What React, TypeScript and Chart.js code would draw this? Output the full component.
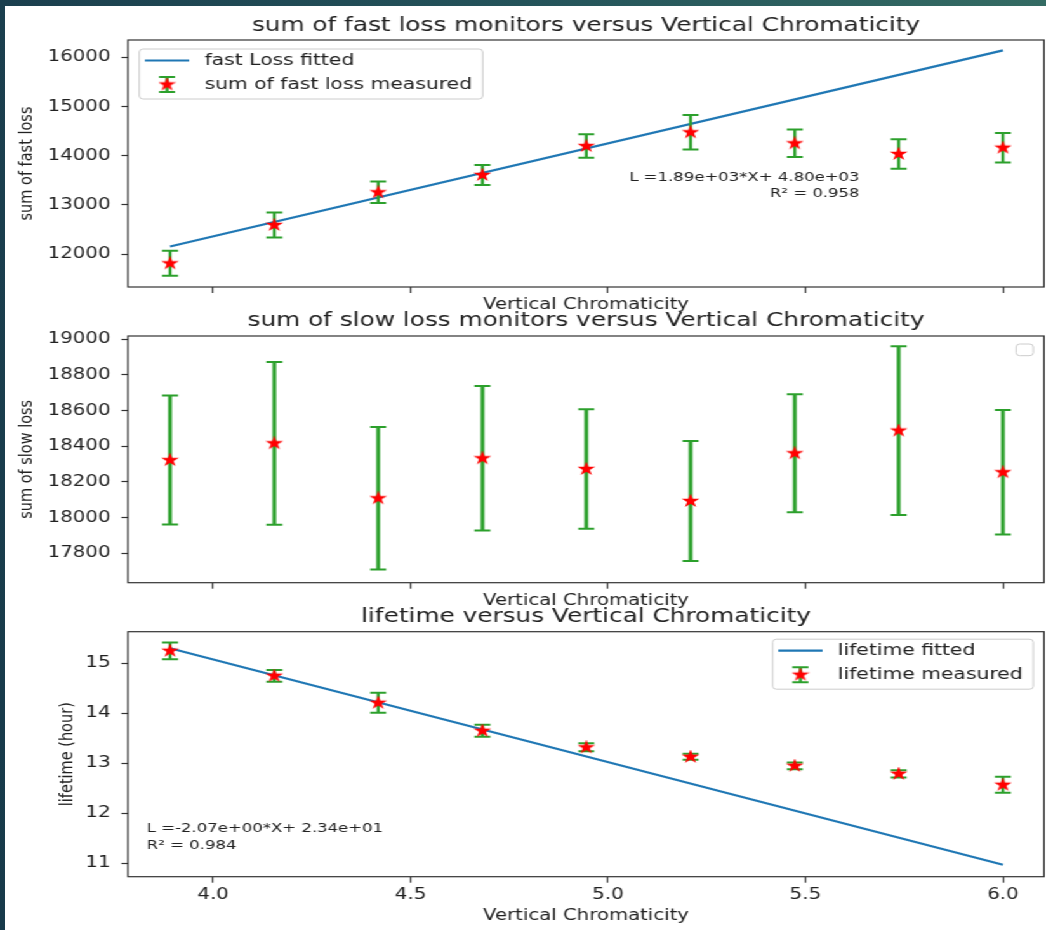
import React, { useEffect, useRef } from 'react';
import { Chart, registerables } from 'chart.js';

Chart.register(...registerables);

// ---------------- data ----------------
const chromaticity = [3.891, 4.155, 4.418, 4.682, 4.945, 5.209, 5.473, 5.736, 6.0];

const fastLoss = [11810, 12590, 13255, 13607, 14196, 14475, 14251, 14034, 14162];
const fastLossErr = [254, 254, 220, 203, 237, 350, 280, 300, 300];
const fastFitX = [3.891, 6.0];
const fastFitY = [12154, 16140];

const slowLoss = [18322, 18416, 18108, 18332, 18272, 18093, 18360, 18487, 18254];
const slowLossErr = [361, 456, 399, 405, 335, 336, 331, 473, 349];

const lifetime = [15.25, 14.75, 14.21, 13.65, 13.32, 13.13, 12.95, 12.79, 12.57];
const lifetimeErr = [0.167, 0.117, 0.2, 0.12, 0.08, 0.06, 0.067, 0.073, 0.16];
const lifeFitX = [3.891, 6.0];
const lifeFitY = [15.3, 10.97];

const xTicks = [4.0, 4.5, 5.0, 5.5, 6.0];
const fastTicks = [12000, 13000, 14000, 15000, 16000];
const slowTicks = [17800, 18000, 18200, 18400, 18600, 18800, 19000];
const lifeTicks = [11, 12, 13, 14, 15];

// ---------------- look ----------------
const CW = 824; // canvas width; the whole figure is stretched horizontally like the reference
const S = 1046 / CW;
const FONT = '"DejaVu Sans", "Liberation Sans", sans-serif';
const TXT = '#222222';
const SPINE = '#333333';
const GREEN = '#2ca02c';
const BLUE = '#1f77b4';
const RED = '#ff0000';
const X_MIN = 3.7845;
const X_MAX = 6.104;
const AX_LEFT = 128;
const AX_RIGHT = 1044;

const panels: any[] = [
  {
    title: 'sum of fast loss monitors versus Vertical Chromaticity',
    yLabel: 'sum of fast loss',
    values: fastLoss,
    errors: fastLossErr,
    fitX: fastFitX,
    fitY: fastFitY,
    fitLabel: 'fast Loss fitted',
    measuredLabel: 'sum of fast loss measured',
    yMin: 11329,
    yMax: 16352,
    yTicks: fastTicks,
    showX: false,
    canvasTop: 0,
    canvasH: 320,
    areaTop: 40,
    areaBottom: 287,
    titleY: 25.5,
    xLabelY: 305,
    yLabelX: 27.5,
    elw: 2.4,
    legend: { corner: 'ul', dy: 9, empty: false },
    notes: {
      align: 'right',
      x: 5.637,
      lines: [
        ['L =1.89e+03*X+ 4.80e+03', 13552],
        ['R\u00B2 = 0.958', 13234],
      ],
    },
  },
  {
    title: 'sum of slow loss monitors versus Vertical Chromaticity',
    yLabel: 'sum of slow loss',
    values: slowLoss,
    errors: slowLossErr,
    fitX: null,
    fitY: null,
    fitLabel: '',
    measuredLabel: '',
    yMin: 17635,
    yMax: 19017,
    yTicks: slowTicks,
    showX: false,
    canvasTop: 300,
    canvasH: 320,
    areaTop: 336,
    areaBottom: 582.7,
    titleY: 321,
    xLabelY: 600.7,
    yLabelX: 27.5,
    elw: 3,
    legend: { corner: 'ur', dy: 8, empty: true },
    notes: null,
  },
  {
    title: 'lifetime versus Vertical Chromaticity',
    yLabel: 'lifetime (hour)',
    values: lifetime,
    errors: lifetimeErr,
    fitX: lifeFitX,
    fitY: lifeFitY,
    fitLabel: 'lifetime fitted',
    measuredLabel: 'lifetime measured',
    yMin: 10.732,
    yMax: 15.632,
    yTicks: lifeTicks,
    showX: true,
    canvasTop: 596,
    canvasH: 334,
    areaTop: 631.7,
    areaBottom: 876.7,
    titleY: 617,
    xLabelY: 916,
    yLabelX: 68,
    elw: 2.4,
    legend: { corner: 'ur', dy: 7.5, empty: false },
    notes: {
      align: 'left',
      x: 3.832,
      lines: [
        ['L =-2.07e+00*X+ 2.34e+01', 11.7],
        ['R\u00B2 = 0.984', 11.35],
      ],
    },
  },
];

function makeStar(): HTMLCanvasElement {
  const c = document.createElement('canvas');
  c.width = 14;
  c.height = 14;
  const g = c.getContext('2d') as CanvasRenderingContext2D;
  const R = 5.4;
  const r = R * 0.381966;
  const cx = 7;
  const cy = 7;
  g.beginPath();
  for (let k = 0; k < 10; k++) {
    const ang = -Math.PI / 2 + (k * Math.PI) / 5;
    const rad = k % 2 === 0 ? R : r;
    const px = cx + rad * Math.cos(ang);
    const py = cy + rad * Math.sin(ang);
    if (k === 0) g.moveTo(px, py);
    else g.lineTo(px, py);
  }
  g.closePath();
  g.fillStyle = RED;
  g.fill();
  g.strokeStyle = RED;
  g.lineWidth = 1.3;
  g.stroke();
  return c;
}

function roundedRect(ctx: CanvasRenderingContext2D, x: number, y: number, w: number, h: number, r: number) {
  ctx.beginPath();
  ctx.moveTo(x + r, y);
  ctx.lineTo(x + w - r, y);
  ctx.arcTo(x + w, y, x + w, y + r, r);
  ctx.lineTo(x + w, y + h - r);
  ctx.arcTo(x + w, y + h, x + w - r, y + h, r);
  ctx.lineTo(x + r, y + h);
  ctx.arcTo(x, y + h, x, y + h - r, r);
  ctx.lineTo(x, y + r);
  ctx.arcTo(x, y, x + r, y, r);
  ctx.closePath();
}

function drawLegend(ctx: CanvasRenderingContext2D, a: any, p: any, star: HTMLCanvasElement) {
  const rows = p.legend.empty
    ? []
    : [
        { kind: 'line', label: p.fitLabel },
        { kind: 'err', label: p.measuredLabel },
      ];
  ctx.save();
  ctx.font = `16px ${FONT}`;
  const maxW = rows.reduce((m: number, r: any) => Math.max(m, ctx.measureText(r.label).width), 0);
  const w = rows.length ? 51.4 + maxW + 8.4 : 13.6;
  const h = rows.length ? 50 : 11.7;
  const left = p.legend.corner === 'ul' ? a.left + 8.9 : a.right - 8.4 - w;
  const top = a.top + p.legend.dy;
  roundedRect(ctx, left, top, w, h, 3);
  ctx.fillStyle = 'rgba(255,255,255,0.8)';
  ctx.fill();
  ctx.strokeStyle = '#cccccc';
  ctx.lineWidth = 1;
  ctx.stroke();
  rows.forEach((r: any, i: number) => {
    const cy = top + 11.5 + 24 * i;
    const hx0 = left + 4.4;
    const hx1 = left + 39.3;
    const hc = (hx0 + hx1) / 2;
    if (r.kind === 'line') {
      ctx.strokeStyle = BLUE;
      ctx.lineWidth = 2.2;
      ctx.beginPath();
      ctx.moveTo(hx0, cy);
      ctx.lineTo(hx1, cy);
      ctx.stroke();
    } else {
      ctx.strokeStyle = GREEN;
      ctx.lineWidth = p.elw;
      ctx.beginPath();
      ctx.moveTo(hc, cy - 7.5);
      ctx.lineTo(hc, cy + 7.5);
      ctx.stroke();
      ctx.lineWidth = 2;
      ctx.beginPath();
      ctx.moveTo(hc - 6.3, cy - 7.5);
      ctx.lineTo(hc + 6.3, cy - 7.5);
      ctx.moveTo(hc - 6.3, cy + 7.5);
      ctx.lineTo(hc + 6.3, cy + 7.5);
      ctx.stroke();
      ctx.drawImage(star, hc - star.width / 2, cy - star.height / 2);
    }
    ctx.fillStyle = TXT;
    ctx.textAlign = 'left';
    ctx.textBaseline = 'middle';
    ctx.fillText(r.label, left + 51.4, cy);
  });
  ctx.restore();
}

function buildChart(canvas: HTMLCanvasElement, p: any, star: HTMLCanvasElement) {
  const pts = chromaticity.map((x, i) => ({ x, y: p.values[i] }));
  const caps = chromaticity.flatMap((x, i) => [
    { x, y: p.values[i] - p.errors[i] },
    { x, y: p.values[i] + p.errors[i] },
  ]);
  const bars = chromaticity.flatMap((x, i) => [
    { x, y: p.values[i] - p.errors[i] },
    { x, y: p.values[i] + p.errors[i] },
    { x, y: null },
  ]);
  const datasets: any[] = [
    { label: p.measuredLabel, data: pts, showLine: false, pointStyle: star, pointRadius: 5, order: 0 },
    {
      label: 'caps',
      data: caps,
      showLine: false,
      pointStyle: 'line',
      pointRadius: 6.3,
      pointBorderColor: GREEN,
      pointBorderWidth: 2,
      order: 1,
    },
    {
      label: 'bars',
      data: bars,
      showLine: true,
      spanGaps: false,
      borderColor: GREEN,
      borderWidth: p.elw,
      pointRadius: 0,
      order: 2,
    },
  ];
  if (p.fitX) {
    datasets.push({
      label: p.fitLabel,
      data: p.fitX.map((x: number, i: number) => ({ x, y: p.fitY[i] })),
      showLine: true,
      borderColor: BLUE,
      borderWidth: 2.2,
      pointRadius: 0,
      order: 3,
    });
  }

  const top = p.canvasTop;
  const bottom = p.canvasTop + p.canvasH;
  const titleLH = 19.5 * 1.2;
  const xTitleLH = 15.5 * 1.2;
  const yTitleLH = 14.5 * 1.2;

  const overlay = {
    id: 'overlay',
    afterDraw(chart: any) {
      const { ctx, chartArea: a, scales } = chart;
      ctx.save();
      ctx.strokeStyle = SPINE;
      ctx.lineWidth = 1.2;
      ctx.strokeRect(a.left, a.top, a.right - a.left, a.bottom - a.top);
      if (p.notes) {
        ctx.font = `13px ${FONT}`;
        ctx.fillStyle = TXT;
        ctx.textAlign = p.notes.align;
        ctx.textBaseline = 'middle';
        const x = scales.x.getPixelForValue(p.notes.x);
        p.notes.lines.forEach((ln: any) => ctx.fillText(ln[0], x, scales.y.getPixelForValue(ln[1])));
      }
      ctx.restore();
      drawLegend(ctx, a, p, star);
    },
  };

  return new Chart(canvas, {
    type: 'scatter',
    data: { datasets },
    options: {
      animation: false,
      responsive: false,
      events: [],
      layout: { autoPadding: false, padding: { left: 0, top: 0, bottom: 0, right: CW - AX_RIGHT / S } },
      plugins: {
        legend: { display: false },
        tooltip: { enabled: false },
        title: {
          display: true,
          text: p.title,
          fullSize: false,
          color: TXT,
          font: { family: FONT, size: 19.5, weight: 'normal' },
          padding: { top: p.titleY - top - titleLH / 2, bottom: p.areaTop - p.titleY - titleLH / 2 },
        },
      },
      scales: {
        x: {
          type: 'linear',
          min: X_MIN,
          max: X_MAX,
          afterBuildTicks: (s: any) => {
            s.ticks = xTicks.map((v) => ({ value: v }));
          },
          afterFit: (s: any) => {
            s.height = bottom - p.areaBottom;
          },
          ticks: {
            display: p.showX,
            color: TXT,
            font: { family: FONT, size: 15.6 },
            padding: 3.2,
            maxRotation: 0,
            autoSkip: false,
            callback: (v: any) => Number(v).toFixed(1),
          },
          grid: { drawOnChartArea: false, drawTicks: true, tickLength: 6, tickColor: SPINE, tickWidth: 1.2 },
          border: { display: false },
          title: {
            display: true,
            text: 'Vertical Chromaticity',
            color: TXT,
            font: { family: FONT, size: 15.5 },
            padding: { top: 0, bottom: bottom - p.xLabelY - xTitleLH / 2 },
          },
        },
        y: {
          type: 'linear',
          min: p.yMin,
          max: p.yMax,
          afterBuildTicks: (s: any) => {
            s.ticks = p.yTicks.map((v: number) => ({ value: v }));
          },
          afterFit: (s: any) => {
            s.width = AX_LEFT / S;
          },
          ticks: {
            color: TXT,
            font: { family: FONT, size: 15.6 },
            padding: 8.5,
            autoSkip: false,
            callback: (v: any) => String(v),
          },
          grid: { drawOnChartArea: false, drawTicks: true, tickLength: 5.2, tickColor: SPINE, tickWidth: 1.2 },
          border: { display: false },
          title: {
            display: true,
            text: p.yLabel,
            color: TXT,
            font: { family: FONT, size: 14.5 },
            padding: { top: p.yLabelX / S - yTitleLH / 2, bottom: 0 },
          },
        },
      },
    } as any,
    plugins: [overlay],
  });
}

export default function App() {
  const r0 = useRef<HTMLCanvasElement>(null);
  const r1 = useRef<HTMLCanvasElement>(null);
  const r2 = useRef<HTMLCanvasElement>(null);
  const refs = [r0, r1, r2];

  useEffect(() => {
    const star = makeStar();
    const charts = panels.map((p, i) => buildChart(refs[i].current as HTMLCanvasElement, p, star));
    return () => charts.forEach((c) => c.destroy());
  }, []);

  return (
    <div
      style={{
        position: 'fixed',
        left: 0,
        top: 0,
        width: 1046,
        height: 930,
        background: '#ffffff',
        overflow: 'hidden',
      }}
    >
      <div
        style={{
          position: 'absolute',
          left: 0,
          top: 0,
          width: CW,
          height: 930,
          transform: `scaleX(${S})`,
          transformOrigin: '0 0',
        }}
      >
        {panels.map((p, i) => (
          <canvas
            key={i}
            ref={refs[i]}
            width={CW}
            height={p.canvasH}
            style={{ position: 'absolute', left: 0, top: p.canvasTop }}
          />
        ))}
      </div>
      <div
        style={{
          position: 'absolute',
          left: 0,
          top: 0,
          width: 1046,
          height: 6,
          background: 'linear-gradient(90deg, #1b3f4e 0%, #24535a 50%, #346b63 100%)',
        }}
      />
      <div
        style={{
          position: 'absolute',
          left: 0,
          top: 0,
          width: 5,
          height: 930,
          background: 'linear-gradient(180deg, #1b3f4e 0%, #173a4a 100%)',
        }}
      />
    </div>
  );
}
